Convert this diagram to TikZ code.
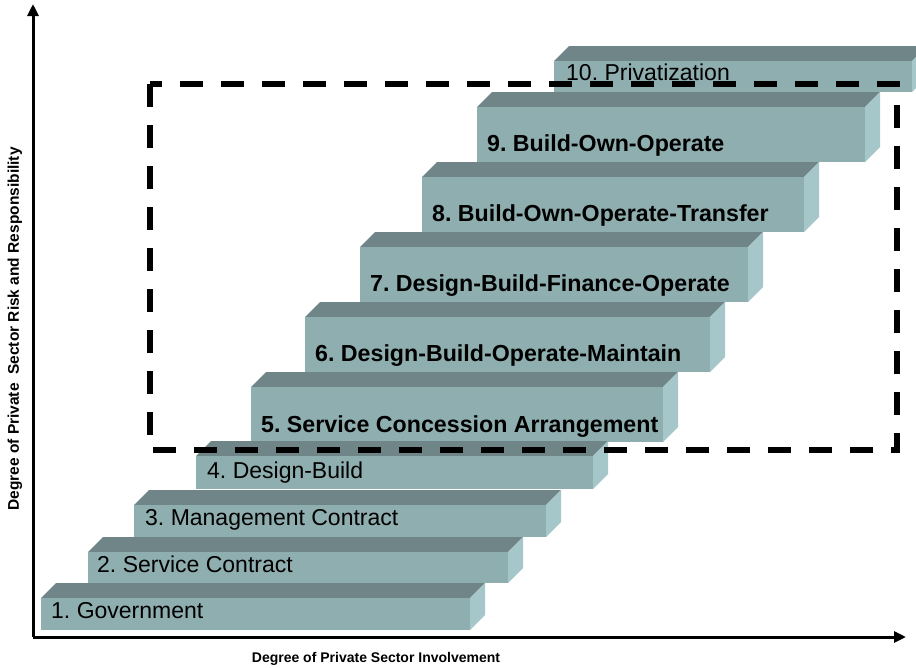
\documentclass[tikz,border=0pt]{standalone}
\usepackage{fontspec}
\setmainfont{Liberation Sans}
\frenchspacing
\usetikzlibrary{arrows.meta}
\definecolor{stairtop}{HTML}{6F8587}
\definecolor{stairfront}{HTML}{8FAEAF}
\definecolor{stairside}{HTML}{A6C7CA}
\tikzset{
  topface/.style={fill=stairtop},
  frontface/.style={fill=stairfront},
  sideface/.style={fill=stairside},
  steplabel/.style={anchor=base west,inner sep=0pt,font=\fontsize{23}{26}\selectfont},
  boldlabel/.style={steplabel,font=\fontsize{23.2}{26}\selectfont\bfseries},
  axislabel/.style={inner sep=0pt,font=\fontsize{14}{16}\selectfont\bfseries},
  axis/.style={line width=3pt,-{Triangle[length=12pt,width=11pt]}},
}
% one block of the stair: name, left, right, top, bottom (y runs downwards)
\newcommand{\stair}[5]{%
  \coordinate (#1-tl) at (#2,#4);
  \coordinate (#1-tr) at (#3,#4);
  \coordinate (#1-br) at (#3,#5);
  \fill[topface] (#1-tl) -- ++(15,-15) -- ++(#3-#2,0) -- (#1-tr) -- cycle;% Top Face
  \fill[sideface] (#1-tr) -- ++(15,-15) -- ++(0,#5-#4) -- (#1-br) -- cycle;% Right Face
  \fill[frontface] (#1-tl) rectangle (#1-br);% Front Face
}
\begin{document}
\begin{tikzpicture}[x=1pt,y=-1pt]
\useasboundingbox (0,0) rectangle (916,667);
\clip (0,0) rectangle (916,667);
% the stair, highest block first
\stair{s10}{554}{912}{61}{92}
\node[steplabel] (l10) at (566,80) {10. Privatization};
\stair{s9}{477}{865}{107}{162}
\node[boldlabel] (l9) at (487,151) {9. Build-Own-Operate};
\stair{s8}{422}{804}{177}{232}
\node[boldlabel] (l8) at (432,221) {8. Build-Own-Operate-Transfer};
\stair{s7}{360}{748}{247}{302}
\node[boldlabel] (l7) at (370,291) {7. Design-Build-Finance-Operate};
\stair{s6}{305}{710}{317}{372}
\node[boldlabel] (l6) at (315,361) {6. Design-Build-Operate-Maintain};
\stair{s5}{251}{663}{387}{442}
\node[boldlabel] (l5) at (261,432) {5. Service Concession Arrangement};
\stair{s4}{196}{593}{456}{489}
\node[steplabel] (l4) at (207,478) {4. Design-Build};
\stair{s3}{134}{546}{505}{537}
\node[steplabel] (l3) at (145,525) {3. Management Contract};
\stair{s2}{88}{508}{552}{583}
\node[steplabel] (l2) at (97,572) {2. Service Contract};
\stair{s1}{41}{470}{598}{630}
\node[steplabel] (l1) at (51,618) {1. Government};
% dashed frame
\draw[line width=5.5pt,dash pattern=on 23pt off 18pt] (150,84) rectangle (897,450);
% axes
\coordinate (origin) at (33,637);
\coordinate (ytip) at (33,4);
\coordinate (xtip) at (906,637);
\draw[axis] (origin) -- (ytip);
\draw[axis] (origin) -- (xtip);
\node[axislabel] (xlabel) at (376,659) {Degree of Private Sector Involvement};
\node[axislabel,font=\fontsize{15.5}{17}\selectfont\bfseries,rotate=90] (ylabel) at (15,329) {Degree of Private \ Sector Risk and Responsibility};
\end{tikzpicture}
\end{document}
